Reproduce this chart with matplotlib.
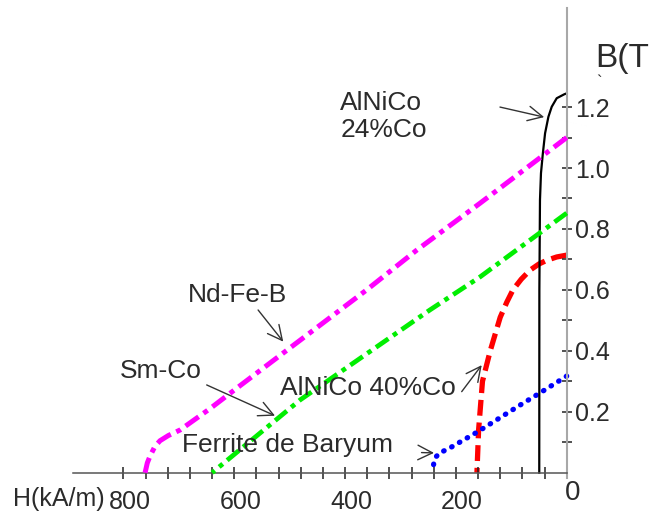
import matplotlib
matplotlib.use("Agg")
import matplotlib.pyplot as plt
from matplotlib.transforms import ScaledTranslation

plt.rcParams['font.family'] = ['Liberation Sans', 'DejaVu Sans']

# ---- data (H in kA/m, plotted as positive values towards the left; B in T)
ndfeb_H = [0, 156, 271, 361, 590, 644, 698, 719, 734, 743, 752, 757, 761]
ndfeb_B = [1.10, 0.885, 0.73, 0.60, 0.285, 0.21, 0.14, 0.122, 0.105, 0.087, 0.055, 0.032, 0.0]

smco_H = [0, 156, 247, 481, 640]
smco_B = [0.852, 0.643, 0.534, 0.239, 0.0]

alnico40_H = [0, 18, 36, 50, 66, 82, 97, 108, 120, 138, 152, 159, 162]
alnico40_B = [0.714, 0.708, 0.697, 0.685, 0.665, 0.635, 0.60, 0.56, 0.51, 0.40, 0.30, 0.14, 0.0]

ferrite_H = [0, 48, 84, 160, 211, 229, 236, 240, 242]
ferrite_B = [0.317, 0.262, 0.222, 0.135, 0.081, 0.065, 0.052, 0.03, 0.0]

alnico24_H = [0, 4.3, 18, 27, 33, 39, 43, 46.4, 48.2, 49.3, 49.5]
alnico24_B = [1.245, 1.242, 1.229, 1.201, 1.168, 1.114, 1.048, 0.983, 0.895, 0.6, 0.0]

x_major = [800, 600, 400, 200, 0]
x_major_labels = ['800', '600', '400', '200', '0']
x_minor = [40 * i for i in range(1, 21)]
y_major = [0.2, 0.4, 0.6, 0.8, 1.0, 1.2]
y_major_labels = ['0.2', '0.4', '0.6', '0.8', '1.0', '1.2']
y_minor = [0.1, 0.3, 0.5, 0.7, 0.9, 1.1]

TXT = '#2b2b2b'

fig = plt.figure(figsize=(6.51, 5.13), dpi=100)
ax = fig.add_axes([0, 0, 1, 1])
ax.set_xlim(1022.9, -152.2)
ax.set_ylim(-0.1323, 1.5514)
ax.patch.set_visible(False)

# curves
ax.plot(alnico40_H, alnico40_B, color='#ff0000', lw=3.8,
        linestyle=(0, (3.0, 1.3)), zorder=1.5)
ax.plot(ferrite_H, ferrite_B, color='#0000ff', lw=3.8,
        linestyle=(0, (0.1, 1.6)), dash_capstyle='round', zorder=1.5)
ax.plot(alnico24_H, alnico24_B, color='black', lw=1.6, zorder=2)
ax.plot(ndfeb_H, ndfeb_B, color='#ff00ff', lw=3.6,
        linestyle=(0, (3.2, 1.2, 1.0, 1.2)), zorder=3)
ax.plot(smco_H, smco_B, color='#00ee00', lw=3.4,
        linestyle=(0, (3.2, 1.2, 1.0, 1.2)), zorder=3)

# axes / spines
for s in ['top', 'left']:
    ax.spines[s].set_visible(False)
ax.spines['right'].set_position(('data', 0))
ax.spines['right'].set_bounds(-0.018, 1.525)
ax.spines['right'].set_color('#a8a8a8')
ax.spines['right'].set_linewidth(1.5)
ax.spines['bottom'].set_position(('data', 0))
ax.spines['bottom'].set_bounds(0, 891)
ax.spines['bottom'].set_color('#555555')
ax.spines['bottom'].set_linewidth(1.1)

ax.yaxis.tick_right()
ax.set_xticks(x_major)
ax.set_xticklabels(x_major_labels)
ax.set_xticks(x_minor, minor=True)
ax.set_yticks(y_major)
ax.set_yticklabels(y_major_labels)
ax.set_yticks(y_minor, minor=True)

ax.tick_params(axis='x', which='both', direction='inout', length=8.6,
               width=1.1, color='#222222', pad=8, labelsize=18,
               labelcolor=TXT)
ax.tick_params(axis='y', which='both', direction='inout', length=7.2,
               width=1.1, color='#222222', pad=2.5, labelsize=18,
               labelcolor=TXT, right=True, left=False)

off = ScaledTranslation(6 / 100, 0, fig.dpi_scale_trans)
for lab in ax.get_xticklabels():
    lab.set_transform(lab.get_transform() + off)
zero_lab = ax.xaxis.get_major_ticks()[-1].label1
zero_lab.set_fontsize(20)
zero_lab.set_transform(zero_lab.get_transform() +
                       ScaledTranslation(0, 10 / 100, fig.dpi_scale_trans))

# axis titles
ax.text(999, -0.109, 'H(kA/m)', fontsize=18, color=TXT,
        ha='left', va='baseline')
ax.text(-51, 1.332, 'B(T', fontsize=24, color=TXT, ha='left', va='baseline',
        clip_on=False)
ax.text(-58, 1.282, '`', fontsize=12, color=TXT, ha='center', va='center')

# labels
FS = 19
ax.text(408.5, 1.190, 'AlNiCo', fontsize=FS, color=TXT, ha='left', va='baseline')
ax.text(408.5, 1.102, '24%Co', fontsize=FS, color=TXT, ha='left', va='baseline')
ax.text(683, 0.559, 'Nd-Fe-B', fontsize=FS, color=TXT, ha='left', va='baseline')
ax.text(806, 0.311, 'Sm-Co', fontsize=FS, color=TXT, ha='left', va='baseline')
ax.text(517, 0.255, 'AlNiCo 40%Co', fontsize=FS, color=TXT, ha='left', va='baseline')
ax.text(694, 0.068, 'Ferrite de Baryum', fontsize=FS, color=TXT, ha='left', va='baseline')

# arrows
aprops = dict(arrowstyle='->,head_length=0.7,head_width=0.35', color='#333333',
              lw=1.0, shrinkA=0, shrinkB=0, mutation_scale=15)
arrows = [((120.4, 1.200), (40.6, 1.167)),
          ((557, 0.534), (511.6, 0.430)),
          ((649.8, 0.288), (526.5, 0.187)),
          ((189.5, 0.266), (153.4, 0.353)),
          ((262, 0.066), (239.5, 0.065))]
for tail, tip in arrows:
    ax.annotate('', xy=tip, xytext=tail, arrowprops=aprops)

fig.savefig('out.png', dpi=100)
